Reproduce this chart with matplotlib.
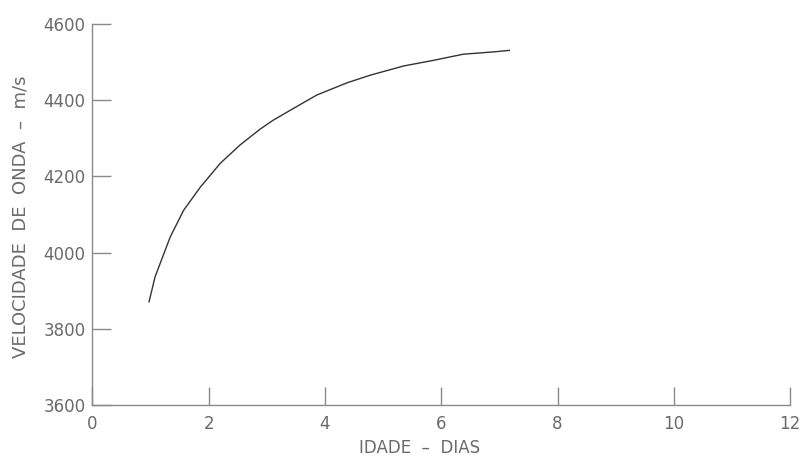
import matplotlib
matplotlib.use('Agg')
import matplotlib.pyplot as plt

# dados (idade em dias, velocidade em m/s)
idade = [0.975, 1.08, 1.34, 1.57, 1.86, 2.20, 2.54, 2.88, 3.11, 3.46,
         3.86, 4.38, 4.78, 5.35, 5.87, 6.38, 6.90, 7.17]
velocidade = [3871, 3937, 4041, 4111, 4172, 4234, 4282, 4323, 4347, 4378,
              4413, 4445, 4465, 4489, 4504, 4520, 4526, 4530]

x_ticks = [0, 2, 4, 6, 8, 10, 12]
y_ticks = [3600, 3800, 4000, 4200, 4400, 4600]

txt_color = '#6a6a6a'
axis_color = '#8a8a8a'

plt.rcParams['font.family'] = ['DejaVu Sans']

fig = plt.figure(figsize=(8.07, 4.57), dpi=100)
ax = fig.add_axes([0.1144, 0.1133, 0.8647, 0.8349])

ax.plot(idade, velocidade, color='#333333', linewidth=1.0)

ax.set_xlim(0, 12)
ax.set_ylim(3600, 4600)
ax.set_xticks(x_ticks)
ax.set_yticks(y_ticks)

for s in ['top', 'right']:
    ax.spines[s].set_visible(False)
for s in ['left', 'bottom']:
    ax.spines[s].set_color(axis_color)
    ax.spines[s].set_linewidth(1.0)

ax.tick_params(axis='x', direction='in', length=13, width=1.0, color=axis_color,
               labelcolor=txt_color, labelsize=12, pad=7)
ax.tick_params(axis='y', direction='in', length=14, width=1.0, color=axis_color,
               labelcolor=txt_color, labelsize=12, pad=5)

fig.text(0.52, 0.02, 'IDADE  –  DIAS', ha='center', va='center',
         fontsize=12, color=txt_color)
fig.text(0.026, 0.525, 'VELOCIDADE  DE  ONDA  –  m/s', ha='center', va='center',
         rotation=90, fontsize=13, color=txt_color)

fig.savefig('out.png', dpi=100)
